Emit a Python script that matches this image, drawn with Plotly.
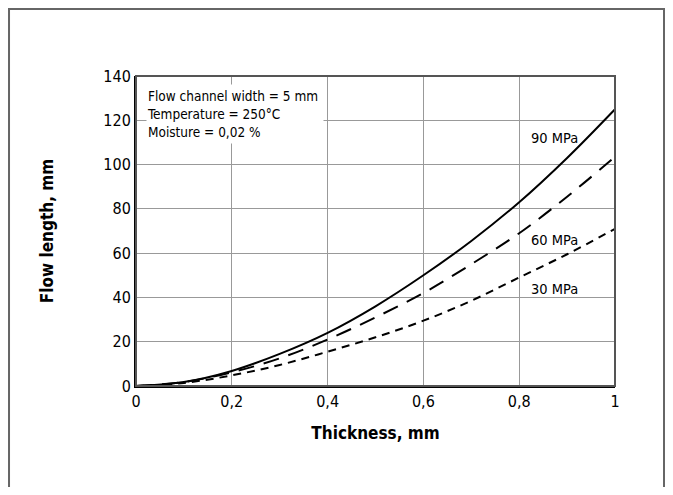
import plotly.graph_objects as go

# Werte
thickness = [0, 0.1, 0.2, 0.3, 0.4, 0.5, 0.6, 0.7, 0.8, 0.9, 1.0]
flow_90 = [0, 1.8, 6.8, 14.5, 24, 36, 50, 65.5, 83, 103, 125]
flow_60 = [0, 1.8, 6.2, 12.5, 21, 31, 42, 55, 69, 85.5, 103.5]
flow_30 = [0, 1.4, 4.8, 9.5, 15.5, 22, 29.5, 38.5, 49, 59.5, 71]

labels = ["90 MPa", "60 MPa", "30 MPa"]
label_x = [0.82, 0.82, 0.82]
label_y = [112, 66, 44]

FONT = "DejaVu Sans Condensed, Liberation Sans Narrow, sans-serif"

fig = go.Figure()
for y, dash in ((flow_90, "solid"), (flow_60, "16px,10px"), (flow_30, "8px,6px")):
    fig.add_trace(go.Scatter(
        x=thickness, y=y, mode="lines",
        line=dict(color="black", width=2, dash=dash, shape="spline"),
        showlegend=False, hoverinfo="skip",
    ))

for txt, lx, ly in zip(labels, label_x, label_y):
    fig.add_annotation(x=lx, y=ly, text=txt, showarrow=False,
                       xanchor="left", yanchor="middle",
                       font=dict(family=FONT, size=14.5, color="black"))

# Infobox oben links: weißer Hintergrund ohne Rahmen
fig.add_annotation(
    xref="paper", yref="paper", x=0.02, y=0.975, xanchor="left", yanchor="top",
    text="Flow channel width = 5 mm<br>Temperature = 250°C<br>Moisture = 0,02 %",
    align="left", showarrow=False, bgcolor="white",
    width=176, height=58, borderpad=0, valign="middle",
    font=dict(family=FONT, size=13.5, color="black"),
)

# Rahmen des Plotbereichs (oben/rechts grau)
fig.add_shape(type="rect", xref="paper", yref="paper", x0=0, x1=1, y0=0, y1=1,
              line=dict(color="#555", width=2), layer="above")
# Äußerer Rahmen
fig.add_shape(type="rect", xref="paper", yref="paper",
              x0=-0.2651, x1=1.1023, y0=-0.4, y1=1.216,
              line=dict(color="#666", width=2))

fig.update_xaxes(
    range=[0, 1], dtick=0.2, showgrid=True, gridcolor="#999", gridwidth=1,
    showline=True, linecolor="black", linewidth=2, zeroline=False,
    ticks="", tickfont=dict(family=FONT, size=16, color="black"),
    title=dict(text="<b>Thickness, mm</b>", standoff=17,
               font=dict(family=FONT, size=17, color="black")),
)
fig.update_yaxes(
    range=[0, 140], dtick=20, showgrid=True, gridcolor="#999", gridwidth=1,
    showline=True, linecolor="black", linewidth=2, zeroline=False,
    ticks="", tickfont=dict(family=FONT, size=16, color="black"),
    title=dict(text="<b>Flow length, mm</b>", standoff=45,
               font=dict(family=FONT, size=17, color="black")),
)

# Seite hat 8px Rand -> Figur entsprechend kleiner und versetzt
fig.update_layout(
    width=665, height=479,
    margin=dict(l=128, r=58, t=68, b=101),
    separators=",.",
    plot_bgcolor="white", paper_bgcolor="white",
)

fig.write_html("out.html")
